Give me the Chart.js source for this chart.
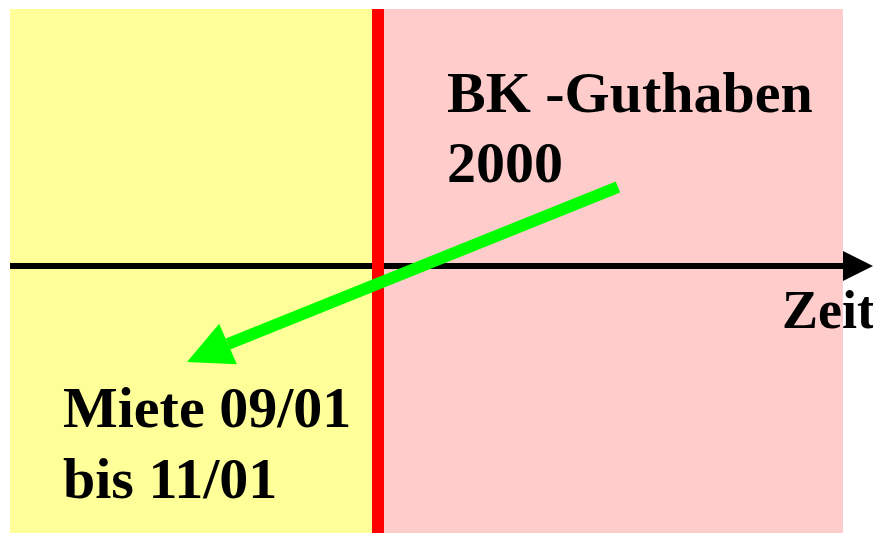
<!DOCTYPE html>
<html>
<head>
<meta charset="utf-8">
<script src="https://cdn.jsdelivr.net/npm/chart.js@4.4.1/dist/chart.umd.min.js"></script>
<style>
  html, body { margin: 0; padding: 0; background: #fff; }
  #wrap { width: 873px; height: 533px; }
</style>
</head>
<body>
<div id="wrap"><canvas id="diagram"></canvas></div>
<script>
// diagram space: x = time (left to right), y = top to bottom, same units as the picture
const xRange = [0, 873];
const yRange = [0, 533];

// background periods
const pastPeriod = [{x: 10, y: 9}, {x: 378, y: 9}];
const futurePeriod = [{x: 378, y: 9}, {x: 843, y: 9}];
const periodBottom = 533;

// red cut-off line
const cutLine = [{x: 378, y: 9}, {x: 378, y: 533}];

// time axis and its arrow tip
const timeAxis = [{x: 10, y: 266}, {x: 843, y: 266}];
const timeAxisTip = {x: 873, y: 266};

// green arrow: BK-Guthaben 2000 -> Miete 09/01 bis 11/01
const creditArrow = [{x: 618, y: 187}, {x: 228, y: 344}];
const creditArrowTip = {x: 187, y: 362};

// labels
const labels = [
    {text: 'BK -Guthaben', x: 447, y: 112, size: 58},
    {text: '2000', x: 447, y: 182, size: 58},
    {text: 'Miete 09/01', x: 63, y: 427, size: 58},
    {text: 'bis 11/01', x: 63, y: 498, size: 58},
    {text: 'Zeit', x: 782, y: 328, size: 54}
];

const arrowHeads = {
    id: 'arrowHeads',
    afterDatasetsDraw(chart) {
        const ctx = chart.ctx;
        const xs = chart.scales.x;
        const ys = chart.scales.y;
        chart.data.datasets.forEach((ds, i) => {
            if (!ds.tip) return;
            const last = ds.data[ds.data.length - 1];
            const bx = xs.getPixelForValue(last.x), by = ys.getPixelForValue(last.y);
            const tx = xs.getPixelForValue(ds.tip.x), ty = ys.getPixelForValue(ds.tip.y);
            const len = Math.hypot(tx - bx, ty - by);
            const px = -(ty - by) / len, py = (tx - bx) / len;
            const hw = ds.headWidth / 2;
            ctx.save();
            ctx.fillStyle = ds.borderColor;
            ctx.beginPath();
            ctx.moveTo(tx, ty);
            ctx.lineTo(bx + px * hw, by + py * hw);
            ctx.lineTo(bx - px * hw, by - py * hw);
            ctx.closePath();
            ctx.fill();
            ctx.restore();
        });
    }
};

const textLabels = {
    id: 'textLabels',
    afterDraw(chart) {
        const ctx = chart.ctx;
        ctx.save();
        ctx.fillStyle = '#000';
        ctx.textBaseline = 'alphabetic';
        ctx.textAlign = 'left';
        labels.forEach(l => {
            ctx.font = 'bold ' + l.size + 'px "Liberation Serif", "Times New Roman", serif';
            ctx.fillText(l.text, chart.scales.x.getPixelForValue(l.x), chart.scales.y.getPixelForValue(l.y));
        });
        ctx.restore();
    }
};

new Chart(document.getElementById('diagram'), {
    type: 'line',
    data: {
        datasets: [
            {
                data: creditArrow,
                tip: creditArrowTip,
                headWidth: 44,
                borderColor: '#00ff00',
                borderWidth: 12,
                order: 0
            },
            {
                data: cutLine,
                borderColor: '#ff0000',
                borderWidth: 12,
                order: 1
            },
            {
                data: timeAxis,
                tip: timeAxisTip,
                headWidth: 30,
                borderColor: '#000000',
                borderWidth: 6,
                order: 2
            },
            {
                data: futurePeriod,
                borderWidth: 0,
                borderColor: 'rgba(0,0,0,0)',
                backgroundColor: '#ffcccc',
                fill: {value: periodBottom},
                order: 3
            },
            {
                data: pastPeriod,
                borderWidth: 0,
                borderColor: 'rgba(0,0,0,0)',
                backgroundColor: '#ffff99',
                fill: {value: periodBottom},
                order: 4
            }
        ]
    },
    options: {
        responsive: true,
        maintainAspectRatio: false,
        animation: false,
        layout: {padding: 0},
        elements: {
            point: {radius: 0, hoverRadius: 0},
            line: {tension: 0, borderCapStyle: 'butt'}
        },
        plugins: {
            legend: {display: false},
            tooltip: {enabled: false}
        },
        scales: {
            x: {type: 'linear', min: xRange[0], max: xRange[1], display: false},
            y: {type: 'linear', min: yRange[0], max: yRange[1], reverse: true, display: false}
        }
    },
    plugins: [arrowHeads, textLabels]
});
</script>
</body>
</html>
